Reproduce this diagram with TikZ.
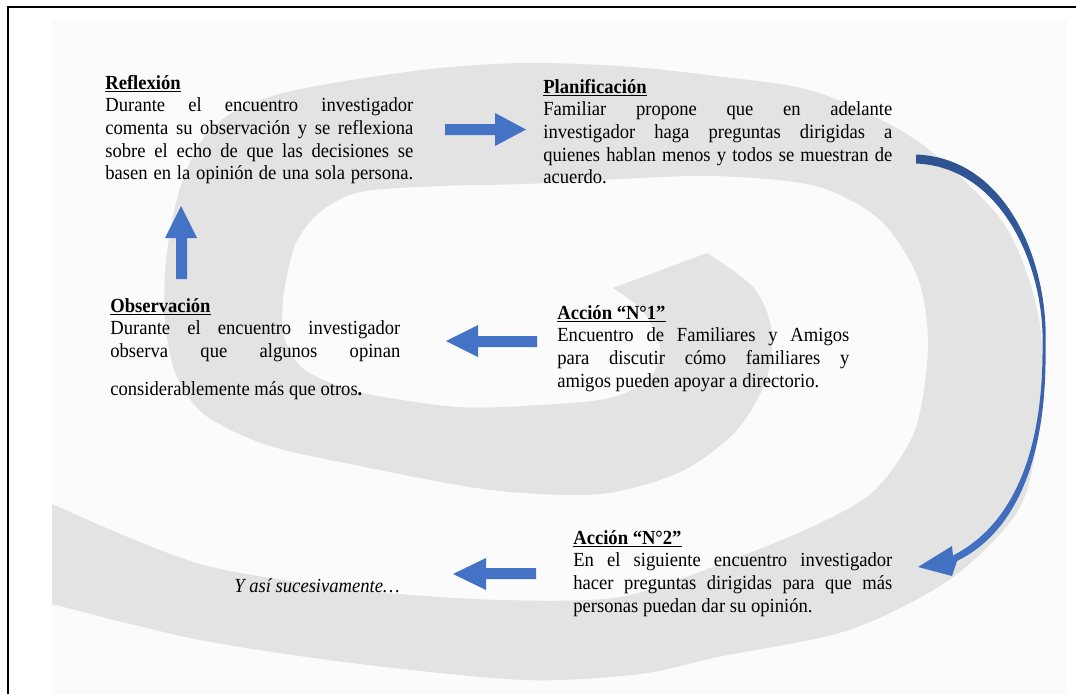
\documentclass[tikz,border=0pt]{standalone}
\usepackage{fontspec}
\setmainfont{Liberation Serif}[FakeStretch=0.93]
\definecolor{arrowblue}{HTML}{4472C4}
\definecolor{darkblue}{HTML}{2F528F}
\definecolor{spiralgray}{HTML}{E3E3E3}
\definecolor{paper}{HTML}{FBFBFB}
\newlength{\blw}
\newcommand{\jl}[1]{\hbox to \blw{#1}}
\newcommand{\nl}[1]{\hbox{#1}}
\newcommand{\hd}[1]{\hbox{\underline{\textbf{#1}}}}
\newcommand{\blk}[2]{\vtop{\setlength{\blw}{#1}\hsize=#1\baselineskip=13.6pt\lineskiplimit=0pt #2}}
\tikzset{
  txt/.style={anchor=base west, inner sep=0pt, font=\fontsize{12}{13.6}\selectfont},
  blockarrow/.style={fill=arrowblue},
  frameline/.style={line width=1.3pt, black}
}
\begin{document}
\begin{tikzpicture}[x=0.6pt,y=-0.6pt]
\useasboundingbox (0,0) rectangle (1076,694);
\fill[white] (0,0) rectangle (1076,694);
\fill[paper] (52,20) rectangle (1067,694);
% spiral background
\fill[spiralgray] plot[smooth] coordinates {(52,604) (200,640) (360,664) (525,680) (640,674) (718,657) (849,630) (949,580) (1016,514) (1036,447) (1042,347) (1030,283) (999,217) (916,140) (816,92) (716,76) (620,66) (525,63) (440,68) (358,79) (283,93) (233,112) (200,143) (178,195) (166,260) (165,320) (176,375) (205,415) (267,445) (360,466) (491,490) (600,494) (680,472) (735,432) (765,383) (772,332) (754,288) (707,253)}
  -- plot[smooth] coordinates {(613,288) (642,310) (660,345) (650,378) (610,398) (540,405) (458,407) (358,392) (305,370) (285,340) (283,300) (295,245) (320,212) (360,192) (440,186) (525,184) (620,179) (716,176) (816,186) (880,220) (918,278) (928,347) (915,430) (875,490) (816,525) (718,565) (620,597) (500,600) (360,590) (200,564) (52,504)}
  -- cycle;
% frame lines
\draw[frameline] (8,694) -- (8,7) -- (1076,7);
% text blocks
\node[txt] (refl) at (105,89) {\blk{184.8pt}{\hd{Reflexión}\jl{Durante el encuentro investigador}\jl{comenta su observación y se reflexiona}\jl{sobre el echo de que las decisiones se}\jl{basen en la opinión de una sola persona.}}};
\node[txt] (plan) at (543,93) {\blk{209.4pt}{\hd{Planificación}\jl{Familiar propone que en adelante}\jl{investigador haga preguntas dirigidas a}\jl{quienes hablan menos y todos se muestran de}\nl{acuerdo.}}};
\node[txt] (obs) at (110,312) {\blk{174pt}{\hd{Observación}\jl{Durante el encuentro investigador}\jl{observa que algunos opinan}\vskip 9pt\nl{considerablemente más que otros\textbf{.}}}};
\node[txt] (acc1) at (557,319) {\blk{175.2pt}{\hd{Acción “N°1”}\jl{Encuentro de Familiares y Amigos}\jl{para discutir cómo familiares y}\nl{amigos pueden apoyar a directorio.}}};
\node[txt] (acc2) at (573,544) {\blk{191.4pt}{\hd{Acción “N°2”}\jl{En el siguiente encuentro investigador}\jl{hacer preguntas dirigidas para que más}\nl{personas puedan dar su opinión.}}};
\node[anchor=base east, inner sep=0pt, font=\fontsize{12}{13.6}\selectfont\itshape] (asi) at (400,592) {Y así sucesivamente…};
% block arrows
\fill[blockarrow] (445,124) -- (495,124) -- (495,113) -- (526,129.5) -- (495,146) -- (495,135) -- (445,135) -- cycle;
\fill[blockarrow] (176,279) -- (176,238) -- (165,238) -- (181,206) -- (197,238) -- (187,238) -- (187,279) -- cycle;
\fill[blockarrow] (537,336) -- (478,336) -- (478,325) -- (446,341) -- (478,357) -- (478,347) -- (537,347) -- cycle;
\fill[blockarrow] (536,568) -- (486,568) -- (486,558) -- (453,574) -- (486,590) -- (486,579) -- (536,579) -- cycle;
% curved arrow
\shade[top color=darkblue, bottom color=arrowblue] (916,154.5) .. controls (1008,158) and (1049,264) .. (1045.5,347) .. controls (1047,447) and (1022,529) .. (957,561) -- (952,576) -- (918,567) -- (952,546) -- (953,555.5) .. controls (1018,522) and (1043,443) .. (1042.5,347) .. controls (1045,267) and (1002,167) .. (916,163.5) -- cycle;
\end{tikzpicture}
\end{document}
